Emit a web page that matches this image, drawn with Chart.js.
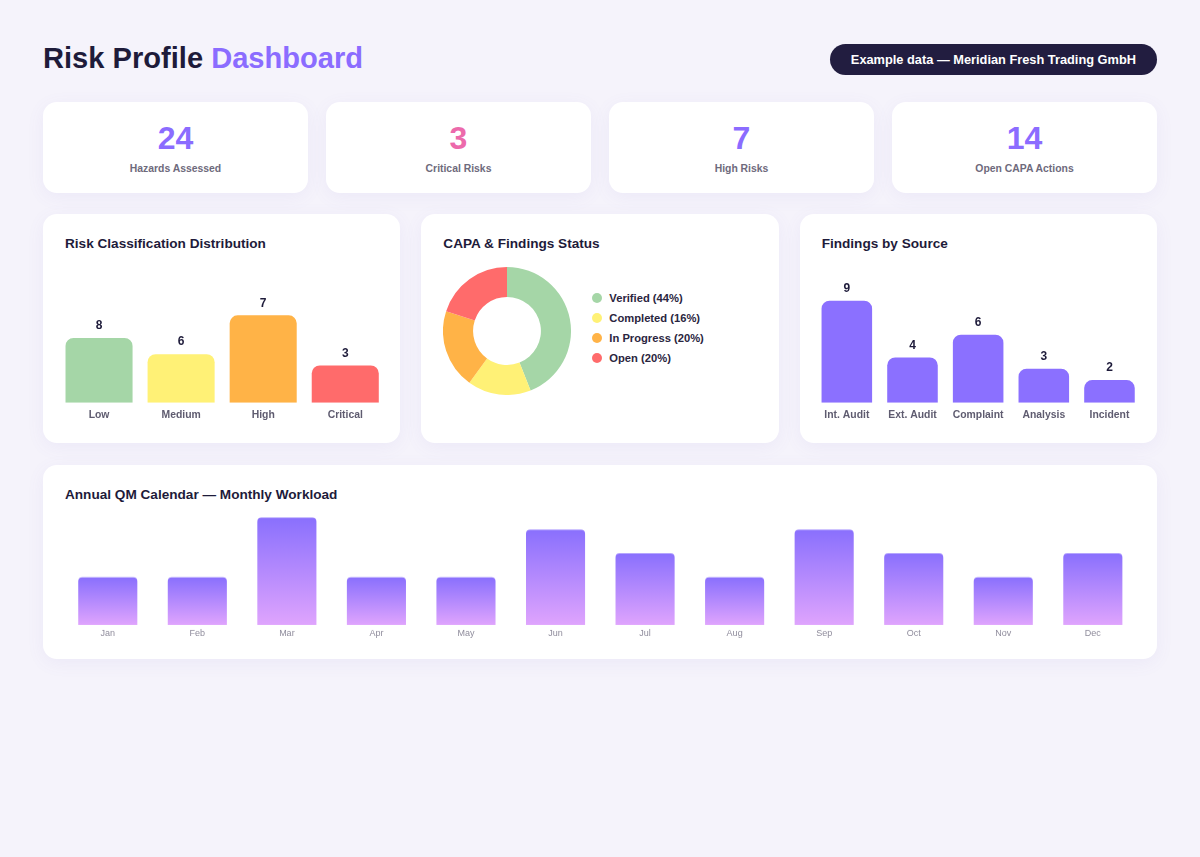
<!DOCTYPE html>
<html>
<head>
<meta charset="utf-8">
<script src="https://cdn.jsdelivr.net/npm/chart.js@4.4.1/dist/chart.umd.min.js"></script>
<style>
  * { box-sizing: border-box; }
  html, body { margin: 0; padding: 0; }
  body { background: #f5f3fb; font-family: "Liberation Sans", Arial, sans-serif; color: #1e1b3a; width: 1200px; height: 857px; overflow: hidden; }
  .wrap { padding: 40px 43px 0 43px; }
  header { display: flex; justify-content: space-between; align-items: center; height: 38px; margin-bottom: 24px; }
  h1 { margin: 0; font-size: 29.1px; font-weight: 700; color: #1e1b3a; line-height: 1; }
  h1 span { color: #8b6cff; }
  .badge { background: #221d40; color: #fff; font-weight: 700; font-size: 12.8px; height: 31px; line-height: 31px; padding: 0 21px; border-radius: 16px; }
  .card { background: #fff; border-radius: 14px; box-shadow: 0 4px 18px rgba(120, 100, 200, 0.07); }
  .kpis { display: grid; grid-template-columns: repeat(4, 1fr); gap: 18px; margin-bottom: 21px; }
  .kpi { height: 91px; text-align: center; padding-top: 20px; }
  .kpi .num { font-size: 32px; font-weight: 700; line-height: 32px; }
  .kpi .lbl { font-size: 10.4px; font-weight: 700; color: #6e6a7c; line-height: 14px; margin-top: 8px; }
  .row { display: grid; grid-template-columns: repeat(3, 1fr); gap: 21px; margin-bottom: 22px; }
  .panel { height: 229px; padding: 22px 22px 0 22px; }
  .panel h2 { margin: 0; font-size: 13.6px; font-weight: 700; line-height: 16px; color: #1e1b3a; }
  .chartbox { position: relative; height: 171.2px; margin: 4px -7.5px 0 -7.5px; }
  .donutwrap { display: flex; align-items: flex-start; margin-top: 15px; }
  .donutbox { position: relative; width: 128px; height: 128px; }
  .legend { margin-left: 21px; margin-top: 21px; list-style: none; padding: 0; }
  .legend li { display: flex; align-items: center; height: 20px; font-size: 11.2px; font-weight: 700; color: #2a2540; }
  .legend .dot { width: 10px; height: 10px; border-radius: 50%; margin-right: 7px; }
  .calendar { height: 194px; padding: 22px 22px 0 22px; }
  .calendar h2 { margin: 0; font-size: 13.6px; font-weight: 700; line-height: 16px; color: #1e1b3a; }
  .calbox { position: relative; height: 136.8px; margin: 1px -2.3px 0 -2.3px; }
</style>
</head>
<body>
<div class="wrap">
  <header>
    <h1>Risk Profile <span>Dashboard</span></h1>
    <div class="badge">Example data — Meridian Fresh Trading GmbH</div>
  </header>
  <div class="kpis" id="kpis"></div>
  <div class="row">
    <div class="card panel">
      <h2>Risk Classification Distribution</h2>
      <div class="chartbox"><canvas id="riskChart"></canvas></div>
    </div>
    <div class="card panel">
      <h2>CAPA &amp; Findings Status</h2>
      <div class="donutwrap">
        <div class="donutbox"><canvas id="capaChart"></canvas></div>
        <ul class="legend" id="capaLegend"></ul>
      </div>
    </div>
    <div class="card panel">
      <h2>Findings by Source</h2>
      <div class="chartbox"><canvas id="sourceChart"></canvas></div>
    </div>
  </div>
  <div class="card calendar">
    <h2>Annual QM Calendar — Monthly Workload</h2>
    <div class="calbox"><canvas id="calChart"></canvas></div>
  </div>
</div>
<script>
// ---- Data ----
const kpiValues = [24, 3, 7, 14];
const kpiLabels = ["Hazards Assessed", "Critical Risks", "High Risks", "Open CAPA Actions"];
const kpiColors = ["#8b6cff", "#ec6aab", "#8b6cff", "#8b6cff"];

const riskLabels = ["Low", "Medium", "High", "Critical"];
const riskCounts = [8, 6, 7, 3];
const riskBarValues = [8, 6, 10.8, 4.6];
const riskColors = ["#a5d6a7", "#fff176", "#ffb347", "#ff6b6b"];

const capaLabels = ["Verified (44%)", "Completed (16%)", "In Progress (20%)", "Open (20%)"];
const capaValues = [44, 16, 20, 20];
const capaColors = ["#a5d6a7", "#fff176", "#ffb347", "#ff6b6b"];

const sourceLabels = ["Int. Audit", "Ext. Audit", "Complaint", "Analysis", "Incident"];
const sourceValues = [9, 4, 6, 3, 2];

const months = ["Jan", "Feb", "Mar", "Apr", "May", "Jun", "Jul", "Aug", "Sep", "Oct", "Nov", "Dec"];
const monthValues = [4, 4, 9, 4, 4, 8, 6, 4, 8, 6, 4, 6];

// ---- KPIs & legend ----
const kpiEl = document.getElementById('kpis');
kpiValues.forEach((v, i) => {
  const d = document.createElement('div');
  d.className = 'card kpi';
  d.innerHTML = '<div class="num" style="color:' + kpiColors[i] + '">' + v + '</div><div class="lbl">' + kpiLabels[i] + '</div>';
  kpiEl.appendChild(d);
});
const legEl = document.getElementById('capaLegend');
capaLabels.forEach((l, i) => {
  const li = document.createElement('li');
  li.innerHTML = '<span class="dot" style="background:' + capaColors[i] + '"></span>' + l;
  legEl.appendChild(li);
});

// ---- Charts ----
const FONT = '"Liberation Sans", Arial, sans-serif';
Chart.defaults.font.family = FONT;

const valueLabels = {
  id: 'valueLabels',
  afterDatasetsDraw(chart, args, opts) {
    if (!opts || !opts.labels) return;
    const ctx = chart.ctx;
    const meta = chart.getDatasetMeta(0);
    ctx.save();
    ctx.font = 'bold 12px ' + FONT;
    ctx.fillStyle = '#1e1b3a';
    ctx.textAlign = 'center';
    ctx.textBaseline = 'bottom';
    meta.data.forEach((bar, i) => ctx.fillText(String(opts.labels[i]), bar.x, bar.y - 6));
    ctx.restore();
  }
};

function barOptions(ymax, labels) {
  return {
    responsive: true,
    maintainAspectRatio: false,
    animation: false,
    layout: { padding: { top: 33.4, left: 0, right: 0, bottom: 0 } },
    plugins: { legend: { display: false }, tooltip: { enabled: false }, valueLabels: { labels: labels } },
    scales: {
      x: {
        grid: { display: false, drawTicks: false },
        border: { display: false },
        ticks: { color: '#5f5c70', padding: 6, font: { size: 10.4, weight: 'bold' }, maxRotation: 0, autoSkip: false }
      },
      y: { display: false, min: 0, max: ymax }
    }
  };
}

new Chart(document.getElementById('riskChart'), {
  type: 'bar',
  data: { labels: riskLabels, datasets: [{ data: riskBarValues, backgroundColor: riskColors, borderRadius: 8, borderSkipped: 'bottom', barPercentage: 0.817, categoryPercentage: 1 }] },
  options: barOptions(14, riskCounts),
  plugins: [valueLabels]
});

new Chart(document.getElementById('sourceChart'), {
  type: 'bar',
  data: { labels: sourceLabels, datasets: [{ data: sourceValues, backgroundColor: '#8b70ff', borderRadius: 8, borderSkipped: 'bottom', barPercentage: 0.77, categoryPercentage: 1 }] },
  options: barOptions(10, sourceValues),
  plugins: [valueLabels]
});

new Chart(document.getElementById('capaChart'), {
  type: 'doughnut',
  data: { labels: capaLabels, datasets: [{ data: capaValues, backgroundColor: capaColors, borderWidth: 0 }] },
  options: {
    responsive: true, maintainAspectRatio: false, animation: false, cutout: '53%',
    plugins: { legend: { display: false }, tooltip: { enabled: false } }
  }
});

new Chart(document.getElementById('calChart'), {
  type: 'bar',
  data: {
    labels: months,
    datasets: [{
      data: monthValues,
      backgroundColor: (c) => {
        const chart = c.chart;
        if (!chart.chartArea || c.type !== 'data') return '#a58af9';
        const y = chart.scales.y;
        const top = y.getPixelForValue(c.raw);
        const bottom = y.getPixelForValue(0);
        const g = chart.ctx.createLinearGradient(0, top, 0, bottom);
        g.addColorStop(0, '#8a70fd');
        g.addColorStop(1, '#dfa4fd');
        return g;
      },
      borderRadius: 4, borderSkipped: 'bottom', barPercentage: 0.66, categoryPercentage: 1
    }]
  },
  options: {
    responsive: true, maintainAspectRatio: false, animation: false,
    layout: { padding: { top: 1.8, left: 0, right: 0, bottom: 0 } },
    plugins: { legend: { display: false }, tooltip: { enabled: false } },
    scales: {
      x: { grid: { display: false, drawTicks: false }, border: { display: false },
           ticks: { color: '#8f8c9c', padding: 3, font: { size: 9 }, maxRotation: 0, autoSkip: false } },
      y: { display: false, min: 0, max: 10 }
    }
  }
});
</script>
</body>
</html>
